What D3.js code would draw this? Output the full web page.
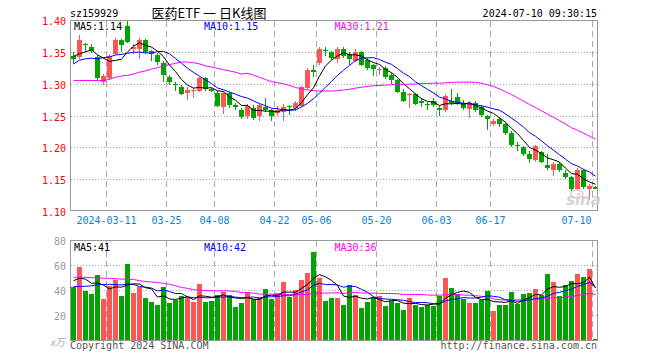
<!DOCTYPE html>
<html>
<head>
<meta charset="utf-8">
<script src="https://cdnjs.cloudflare.com/ajax/libs/d3/7.8.5/d3.min.js"></script>
<style>
body{margin:0;background:#fff;}
</style>
</head>
<body>
<script>
// daily K data, 2024-03-01 .. 2024-07-10 (88 trading days)
var opens = [1.344,1.342,1.362,1.357,1.342,1.303,1.309,1.346,1.368,1.390,
	1.354,1.354,1.368,1.351,1.345,1.333,1.311,1.299,1.295,1.286,
	1.288,1.289,1.309,1.291,1.286,1.264,1.285,1.266,1.259,1.249,
	1.262,1.250,1.263,1.258,1.254,1.256,1.265,1.261,1.265,1.293,
	1.321,1.332,1.353,1.349,1.338,1.354,1.346,1.336,1.349,1.337,
	1.329,1.321,1.324,1.313,1.305,1.287,1.282,1.283,1.273,1.268,
	1.272,1.262,1.258,1.272,1.279,1.270,1.260,1.270,1.264,1.249,
	1.236,1.245,1.236,1.223,1.204,1.200,1.189,1.180,1.192,1.173,
	1.164,1.174,1.160,1.153,1.134,1.164,1.135,1.138];
var highs = [1.349,1.377,1.364,1.362,1.345,1.315,1.346,1.372,1.370,1.400,
	1.362,1.371,1.370,1.353,1.348,1.336,1.314,1.303,1.298,1.295,
	1.293,1.311,1.311,1.293,1.288,1.287,1.287,1.270,1.262,1.268,
	1.266,1.269,1.278,1.260,1.265,1.268,1.266,1.272,1.297,1.325,
	1.329,1.358,1.357,1.352,1.357,1.358,1.349,1.354,1.351,1.340,
	1.331,1.326,1.327,1.316,1.307,1.291,1.285,1.286,1.277,1.271,
	1.278,1.265,1.283,1.292,1.285,1.274,1.272,1.273,1.267,1.251,
	1.245,1.247,1.239,1.225,1.209,1.202,1.194,1.204,1.195,1.189,
	1.177,1.177,1.164,1.155,1.167,1.166,1.142,1.139];
var lows = [1.331,1.338,1.349,1.348,1.306,1.298,1.306,1.345,1.349,1.364,
	1.346,1.338,1.347,1.336,1.330,1.302,1.298,1.288,1.282,1.275,
	1.278,1.287,1.289,1.287,1.263,1.252,1.262,1.258,1.245,1.244,
	1.243,1.242,1.256,1.242,1.250,1.241,1.251,1.257,1.263,1.291,
	1.311,1.330,1.344,1.337,1.333,1.341,1.330,1.334,1.328,1.322,
	1.312,1.314,1.307,1.299,1.285,1.271,1.262,1.266,1.263,1.259,
	1.264,1.249,1.255,1.266,1.266,1.258,1.246,1.256,1.248,1.228,
	1.233,1.232,1.220,1.201,1.194,1.186,1.176,1.177,1.175,1.164,
	1.155,1.162,1.151,1.131,1.132,1.135,1.117,1.134];
var closes = [1.339,1.368,1.360,1.351,1.309,1.312,1.343,1.368,1.360,1.366,
	1.357,1.369,1.349,1.346,1.334,1.314,1.303,1.298,1.284,1.290,
	1.290,1.309,1.291,1.289,1.265,1.285,1.267,1.264,1.248,1.265,
	1.246,1.267,1.258,1.249,1.258,1.264,1.263,1.270,1.295,1.321,
	1.319,1.354,1.351,1.340,1.354,1.344,1.338,1.350,1.330,1.325,
	1.323,1.323,1.310,1.306,1.287,1.273,1.284,1.268,1.270,1.266,
	1.267,1.258,1.281,1.270,1.269,1.261,1.270,1.258,1.251,1.245,
	1.242,1.236,1.223,1.204,1.202,1.189,1.181,1.202,1.177,1.168,
	1.174,1.164,1.153,1.134,1.164,1.137,1.140,1.135];
// volume, x10k
var volumes = [42.3,58.8,39.4,37.0,52.1,33.0,43.4,48.2,35.4,60.9,
	37.8,42.3,33.8,30.6,28.3,42.6,29.9,32.2,35.4,34.6,
	30.6,45.0,30.6,31.4,36.2,38.6,36.2,26.7,29.9,38.6,
	33.0,34.6,41.0,33.0,37.8,46.4,34.6,40.2,48.2,53.7,
	70.4,49.7,31.4,33.8,33.8,28.3,44.2,36.2,25.9,30.6,
	34.6,35.4,27.5,31.4,29.9,24.3,33.8,28.3,26.7,28.3,
	27.5,35.4,49.7,41.8,37.0,33.0,29.9,29.9,32.2,39.4,
	23.5,28.3,28.3,38.6,29.1,37.0,37.8,41.0,36.2,52.9,
	46.4,35.4,44.2,47.4,52.9,50.5,56.9,0.9];

// moving average values before the window fills
var ma5Head = [1.343,1.347,1.350,1.353];
var ma10Head = [1.331,1.337,1.339,1.340,1.339,1.341,1.342,1.345,1.346];
var ma30Head = [1.305,1.305,1.305,1.305,1.305,1.305,1.307,1.310,1.312,1.313,
	1.315,1.318,1.320,1.323,1.325,1.328,1.330,1.332,1.334,1.334,
	1.333,1.331,1.328,1.326,1.324,1.322,1.320,1.318,1.315];
var vma5Head = [47.6,49.5,48.9,45.5];
var vma10Head = [42.8,43.0,43.2,43.5,44.5,44.7,44.7,44.5,44.2];
var vma30Head = [50.3,50.3,50.3,50.0,49.8,49.6,49.5,49.2,48.9,48.8,
	48.6,47.6,47.0,46.5,46.2,45.4,44.8,43.6,42.2,41.5,
	40.5,40.0,39.7,39.6,39.6,39.5,39.4,39.0,38.2];

var dateTicks = [6,16,24,34,41,51,61,70,87];
var dateLabels = ["2024-03-11","03-25","04-08","04-22","05-06","05-20","06-03","06-17","07-10"];
var priceTicks = [1.10,1.15,1.20,1.25,1.30,1.35,1.40];
var priceGrid = [1.15,1.20,1.25,1.30,1.35];
var volTicks = [20,40,60,80];
var volGrid = [20,40,60];

var RED = "#ff5555", GREEN = "#00a400";
var MONO = "DejaVu Sans Mono, monospace";

function movingAvg(arr, n, head){
	return arr.map(function(d, i){
		if (i < n - 1) return head[i];
		return d3.mean(arr.slice(i - n + 1, i + 1));
	});
}

var ma5 = movingAvg(closes, 5, ma5Head),
	ma10 = movingAvg(closes, 10, ma10Head),
	ma30 = movingAvg(closes, 30, ma30Head);
var vma5 = movingAvg(volumes, 5, vma5Head),
	vma10 = movingAvg(volumes, 10, vma10Head),
	vma30 = movingAvg(volumes, 30, vma30Head);

var svg = d3.select("body").append("svg")
	.attr("width", 660)
	.attr("height", 360);

var x = d3.scaleLinear().domain([0, 88]).range([70, 598]);
var y = d3.scaleLinear().domain([1.10, 1.40]).range([211, 20]);
var yv = d3.scaleLinear().domain([0, 80]).range([340.5, 240]);

// grid
function hGrid(scale, vals){
	svg.append("g").selectAll("line").data(vals).enter().append("line")
		.attr("x1", 71).attr("x2", 597)
		.attr("y1", function(d){ return Math.round(scale(d)) + 0.5; })
		.attr("y2", function(d){ return Math.round(scale(d)) + 0.5; })
		.attr("stroke", "#aaa")
		.attr("stroke-dasharray", "1,2");
}
function vGrid(top, bottom){
	svg.append("g").selectAll("line").data(dateTicks).enter().append("line")
		.attr("x1", function(d){ return x(d) + 0.5; })
		.attr("x2", function(d){ return x(d) + 0.5; })
		.attr("y1", top).attr("y2", bottom)
		.attr("stroke", "#aaa")
		.attr("stroke-dasharray", "6,4");
}
hGrid(y, priceGrid);
hGrid(yv, volGrid);
vGrid(21, 211);
vGrid(241, 340);

// candles
var idx = d3.range(closes.length);
function colorOf(i){ return closes[i] >= opens[i] ? RED : GREEN; }

var candles = svg.append("g").attr("shape-rendering", "crispEdges");
candles.selectAll("line").data(idx).enter().append("line")
	.attr("x1", function(i){ return x(i) + 3.5; })
	.attr("x2", function(i){ return x(i) + 3.5; })
	.attr("y1", function(i){ return y(highs[i]); })
	.attr("y2", function(i){ return y(lows[i]); })
	.attr("stroke", colorOf);
candles.selectAll("rect").data(idx).enter().append("rect")
	.attr("x", function(i){ return x(i) + 1; })
	.attr("width", 5)
	.attr("y", function(i){ return y(Math.max(opens[i], closes[i])); })
	.attr("height", function(i){ return Math.max(1, Math.abs(y(opens[i]) - y(closes[i]))); })
	.attr("fill", colorOf);

// volume bars
svg.append("g").attr("shape-rendering", "crispEdges")
	.selectAll("rect").data(idx).enter().append("rect")
	.attr("x", function(i){ return x(i) + 1; })
	.attr("width", 5)
	.attr("y", function(i){ return yv(volumes[i]); })
	.attr("height", function(i){ return yv(0) - yv(volumes[i]); })
	.attr("fill", colorOf);

// MA lines
function maLine(scale, vals, color){
	var line = d3.line()
		.x(function(d, i){ return x(i) + 3.5; })
		.y(function(d){ return scale(d); });
	svg.append("path").datum(vals)
		.attr("d", line)
		.attr("fill", "none")
		.attr("stroke", color)
		.attr("stroke-width", 1);
}
maLine(y, ma30, "#ff00ff");
maLine(y, ma10, "#0000ff");
maLine(y, ma5, "#000");
maLine(yv, vma30, "#ff00ff");
maLine(yv, vma10, "#0000ff");
maLine(yv, vma5, "#000");

// frames
svg.append("rect").attr("x", 70.5).attr("y", 20.5).attr("width", 527).attr("height", 190)
	.attr("fill", "none").attr("stroke", "#999");
svg.append("rect").attr("x", 70.5).attr("y", 240.5).attr("width", 527).attr("height", 100)
	.attr("fill", "none").attr("stroke", "#999");

// axes
var yAxis = svg.append("g").attr("transform", "translate(70,0)")
	.call(d3.axisLeft(y).tickValues(priceTicks).tickFormat(d3.format(".2f")).tickSize(0).tickPadding(4));
yAxis.select(".domain").remove();
yAxis.selectAll("text").attr("fill", "#f00").attr("font-family", MONO).attr("font-size", 10).attr("dy", "0.45em");

var vAxis = svg.append("g").attr("transform", "translate(70,0)")
	.call(d3.axisLeft(yv).tickValues(volTicks).tickSize(0).tickPadding(4));
vAxis.select(".domain").remove();
vAxis.selectAll("text").attr("fill", "#999").attr("font-family", MONO).attr("font-size", 10).attr("dy", "0.4em");

var xAxis = svg.append("g").attr("transform", "translate(0,211)")
	.call(d3.axisBottom(x).tickValues(dateTicks)
		.tickFormat(function(d, i){ return dateLabels[i]; })
		.tickSize(0).tickPadding(6));
xAxis.select(".domain").remove();
xAxis.selectAll("text").attr("fill", "#0a80d8").attr("font-family", MONO).attr("font-size", 10);
xAxis.selectAll("text").filter(function(d){ return d === 87; })
	.attr("text-anchor", "end").attr("x", -1);

// texts
function label(t, px, py, color, anchor, size, family){
	return svg.append("text").text(t)
		.attr("x", px).attr("y", py)
		.attr("fill", color)
		.attr("text-anchor", anchor || "start")
		.attr("font-family", family || MONO)
		.attr("font-size", size || 10);
}
var f2 = d3.format(".2f");
var last = closes.length - 1;
label("sz159929", 70, 16.5, "#000");
label("医药ETF 一 日K线图", 209, 17.5, "#000", "middle", 13, "Noto Sans CJK SC");
label("2024-07-10 09:30:15", 597, 16.5, "#000", "end");
label("MA5:" + f2(ma5[last]), 74, 30, "#000");
label("MA10:" + f2(ma10[last]), 204, 30, "#0000ff");
label("MA30:" + f2(ma30[last]), 334.5, 30, "#ff00ff");
label("MA5:" + Math.floor(vma5[last]), 74, 250.5, "#000");
label("MA10:" + Math.floor(vma10[last]), 204, 250.5, "#0000ff");
label("MA30:" + Math.floor(vma30[last]), 334.5, 250.5, "#ff00ff");
label("x万", 65, 346, "#aaa", "end", 10, "Noto Sans CJK SC").attr("font-style", "italic");
label("Copyright 2024 SINA.COM", 70, 349, "#555");
label("http://finance.sina.com.cn", 597, 349, "#555", "end");

// watermark
svg.append("ellipse").attr("cx", 577).attr("cy", 194).attr("rx", 6).attr("ry", 4)
	.attr("fill", "none").attr("stroke", "#f2c8c8").attr("stroke-width", 1.5);
label("sina", 566, 205, "#cfcfcf", "start", 15, "DejaVu Sans")
	.attr("font-style", "italic").attr("font-weight", "bold").attr("opacity", 0.9);
</script>
</body>
</html>
